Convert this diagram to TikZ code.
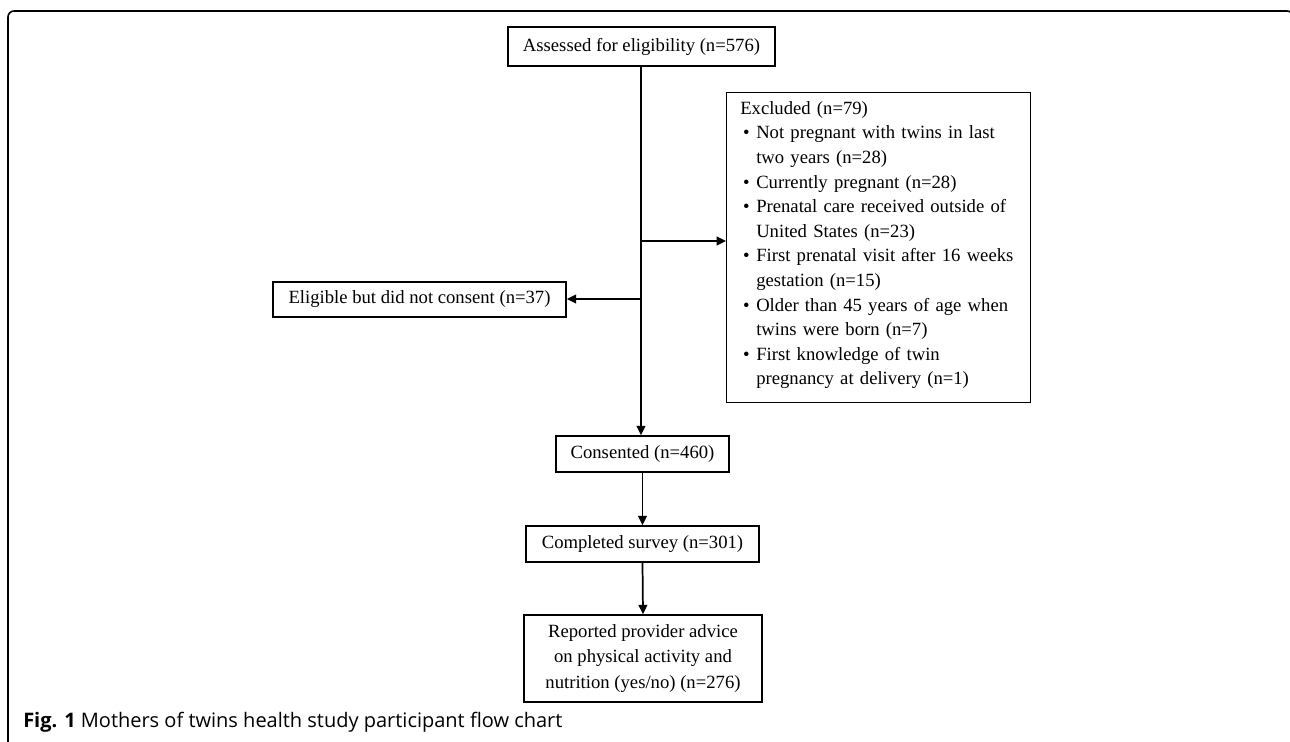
\documentclass[tikz,border=0pt]{standalone}
\usepackage{fontspec}
\setmainfont{Liberation Serif}
\newfontfamily\capfont{Open Sans}
\usetikzlibrary{arrows.meta}
\newcommand{\bitem}[1]{\hspace*{2.2pt}\makebox[9.8pt][l]{\textbullet}#1}
\newcommand{\citem}[1]{\hspace*{12pt}#1}
\begin{document}
\begin{tikzpicture}[x=0.75pt,y=-0.75pt,
  box/.style={draw, line width=1.1pt, inner sep=0pt, align=center,
    font=\fontsize{14pt}{18.8pt}\selectfont},
  conn/.style={line width=1.3pt},
  arr/.style={conn, -{Triangle[length=7pt,width=6.5pt]}}]
\useasboundingbox (0,0) rectangle (1290,742);
% outer frame
\draw[line width=1.2pt] (8,745) -- (8,17) arc[start angle=180,end angle=270,radius=6] -- (1287,11) arc[start angle=270,end angle=360,radius=6] -- (1293,745);
% nodes
\node[box, minimum width=200.25pt, minimum height=29.25pt] (assess) at (641.5,46.5) {Assessed for eligibility (n=576)};
\node[box, minimum width=228pt, minimum height=232.5pt, anchor=north west] (excl) at (726,92) {};
\node[anchor=north west, inner sep=0pt, align=left, text width=220pt, font=\fontsize{14pt}{18.45pt}\selectfont] (excltext) at (740,101) {Excluded (n=79)\\
\bitem{Not pregnant with twins in last}\\
\citem{two years (n=28)}\\
\bitem{Currently pregnant (n=28)}\\
\bitem{Prenatal care received outside of}\\
\citem{United States (n=23)}\\
\bitem{First prenatal visit after 16 weeks}\\
\citem{gestation (n=15)}\\
\bitem{Older than 45 years of age when}\\
\citem{twins were born (n=7)}\\
\bitem{First knowledge of twin}\\
\citem{pregnancy at delivery (n=1)}};
\node[box, minimum width=219.75pt, minimum height=26.25pt] (elig) at (419.5,299.5) {Eligible but did not consent (n=37)};
\node[box, minimum width=129.75pt, minimum height=27pt] (cons) at (642.5,454) {Consented (n=460)};
\node[box, minimum width=174.75pt, minimum height=27pt] (comp) at (642.5,544) {Completed survey (n=301)};
\node[box, minimum width=178.5pt, minimum height=65.25pt] (rep) at (643,658.5) {Reported provider advice\\on physical activity and\\nutrition (yes/no) (n=276)};
% connectors
\coordinate (j1) at (641,241);
\coordinate (j2) at (641,299);
\draw[arr] (assess.south -| j1) -- (cons.north -| j1);
\draw[arr] (j1) -- (excl.west |- j1);
\draw[arr] (j2) -- (elig.east |- j2);
\draw[arr] (cons.south -| comp) -- (comp.north);
\draw[arr] (comp.south) -- (rep.north);
% caption
\node[anchor=base west, inner sep=0pt, font=\capfont\fontsize{15pt}{18pt}\selectfont] (cap) at (23,727) {\textbf{Fig. 1} Mothers of twins health study participant flow chart};
\end{tikzpicture}
\end{document}
